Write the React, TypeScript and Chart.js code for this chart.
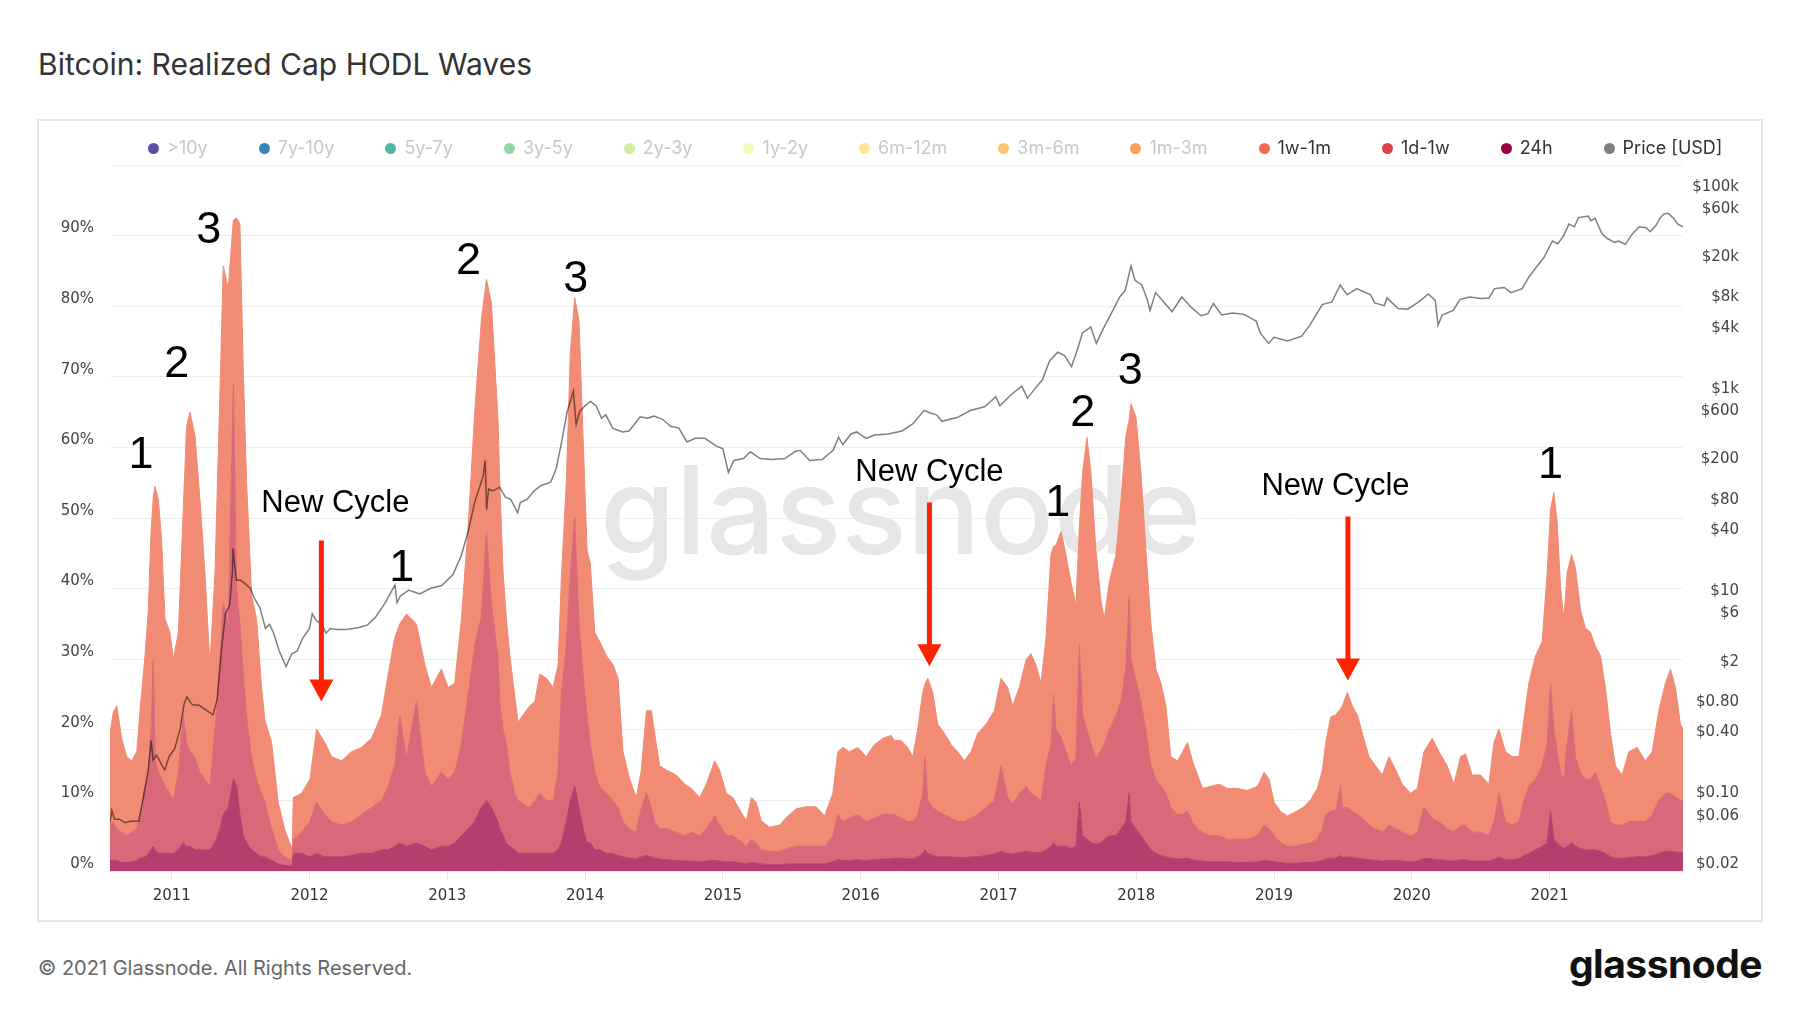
import React, { useEffect, useRef } from 'react';
import { Chart, registerables } from 'chart.js';

Chart.register(...registerables);

// ---------- DATA ----------
// Sample dates (decimal years)
const years: number[] = [
  2010.552, 2010.576, 2010.601, 2010.637, 2010.673, 2010.709, 2010.746, 2010.770, 2010.806, 2010.830,
  2010.850, 2010.866, 2010.879, 2010.903, 2010.927, 2010.951, 2010.987, 2011.012, 2011.048, 2011.084,
  2011.108, 2011.132, 2011.169, 2011.205, 2011.241, 2011.277, 2011.314, 2011.350, 2011.374, 2011.410,
  2011.447, 2011.471, 2011.495, 2011.519, 2011.543, 2011.580, 2011.616, 2011.652, 2011.676, 2011.725,
  2011.773, 2011.821, 2011.858, 2011.875, 2011.882, 2011.942, 2012.003, 2012.051, 2012.111, 2012.160,
  2012.232, 2012.305, 2012.377, 2012.450, 2012.522, 2012.571, 2012.619, 2012.655, 2012.704, 2012.776,
  2012.837, 2012.885, 2012.957, 2013.006, 2013.054, 2013.102, 2013.151, 2013.199, 2013.247, 2013.284,
  2013.320, 2013.368,
  2013.381, 2013.405, 2013.429, 2013.454, 2013.490, 2013.514, 2013.550, 2013.599, 2013.635, 2013.671,
  2013.719, 2013.768, 2013.804, 2013.828, 2013.864, 2013.893, 2013.925, 2013.956, 2013.985, 2014.014,
  2014.038, 2014.070, 2014.106, 2014.155, 2014.203, 2014.239, 2014.275, 2014.324, 2014.372, 2014.408,
  2014.445, 2014.481, 2014.505, 2014.541, 2014.590, 2014.662, 2014.723, 2014.771, 2014.831, 2014.880,
  2014.940, 2014.976, 2015.025, 2015.073, 2015.109, 2015.170, 2015.206, 2015.242, 2015.279, 2015.339,
  2015.412, 2015.472, 2015.532, 2015.605, 2015.677, 2015.738, 2015.798, 2015.834, 2015.871, 2015.919,
  2015.980, 2016.040, 2016.100, 2016.161, 2016.221,
  2016.245, 2016.293, 2016.342, 2016.378, 2016.414, 2016.450, 2016.467, 2016.487, 2016.523, 2016.559,
  2016.608, 2016.656, 2016.704, 2016.753, 2016.801, 2016.849, 2016.910, 2016.970, 2017.018, 2017.067,
  2017.103, 2017.151, 2017.200, 2017.236, 2017.272, 2017.309, 2017.345, 2017.381, 2017.400, 2017.417,
  2017.454, 2017.490, 2017.526, 2017.562, 2017.587, 2017.611, 2017.642, 2017.671, 2017.707, 2017.744,
  2017.768, 2017.804, 2017.853, 2017.889, 2017.925, 2017.949, 2017.961, 2017.998, 2018.034, 2018.070,
  2018.106, 2018.143, 2018.179, 2018.215, 2018.251, 2018.300, 2018.336, 2018.372, 2018.408, 2018.445,
  2018.481, 2018.541, 2018.602, 2018.662, 2018.735, 2018.807, 2018.880, 2018.928, 2018.964, 2019.001,
  2019.049, 2019.097,
  2019.157, 2019.218, 2019.266, 2019.314, 2019.351, 2019.375, 2019.411, 2019.447, 2019.484, 2019.496,
  2019.532, 2019.568, 2019.605, 2019.641, 2019.689, 2019.737, 2019.786, 2019.834, 2019.883, 2019.931,
  2019.991, 2020.040, 2020.088, 2020.148, 2020.197, 2020.257, 2020.305, 2020.354, 2020.390, 2020.438,
  2020.499, 2020.559, 2020.596, 2020.632, 2020.680, 2020.729, 2020.777, 2020.813, 2020.849, 2020.898,
  2020.946, 2020.982, 2021.007, 2021.031, 2021.055, 2021.079, 2021.103, 2021.127, 2021.159, 2021.188,
  2021.224, 2021.260, 2021.297, 2021.333, 2021.369, 2021.405, 2021.442, 2021.478, 2021.526, 2021.575,
  2021.635, 2021.695, 2021.744, 2021.792, 2021.840, 2021.877, 2021.913, 2021.949, 2021.968,
];

// 24h band (% of realized cap)
const band24h: number[] = [
  1.5, 1.5, 1.5, 1.2, 1.2, 1.3, 1.5, 1.8, 2.0, 2.5,
  3.0, 3.5, 3.0, 2.5, 2.5, 2.5, 2.5, 2.5, 3.0, 4.0,
  3.5, 3.5, 3.0, 3.0, 3.0, 3.0, 4.0, 6.0, 8.0, 9.0,
  13.0, 12.0, 8.0, 5.0, 4.0, 3.0, 2.5, 2.0, 2.0, 1.5,
  1.0, 0.8, 0.7, 0.7, 2.5, 2.5, 2.0, 2.5, 2.0, 2.0,
  2.0, 2.2, 2.5, 2.5, 3.0, 3.0, 3.5, 4.0, 3.5, 4.0,
  3.5, 3.0, 3.5, 3.5, 4.0, 5.0, 6.0, 7.0, 9.0, 10.0,
  9.0, 7.0,
  6.0, 5.0, 4.0, 3.5, 3.0, 2.5, 2.5, 2.5, 2.5, 2.5,
  2.5, 2.5, 3.0, 4.0, 7.0, 10.0, 12.0, 9.0, 6.0, 4.0,
  4.0, 3.0, 3.0, 2.5, 2.5, 2.2, 2.0, 1.8, 1.7, 2.0,
  2.2, 2.0, 1.8, 1.7, 1.6, 1.5, 1.4, 1.4, 1.3, 1.4,
  1.5, 1.4, 1.3, 1.3, 1.2, 1.0, 1.2, 1.1, 1.0, 0.9,
  0.9, 1.0, 1.0, 1.0, 1.0, 1.0, 1.3, 1.6, 1.5, 1.5,
  1.6, 1.5, 1.6, 1.7, 1.7,
  1.8, 1.8, 1.7, 1.7, 2.0, 2.5, 3.0, 2.5, 2.2, 2.0,
  2.0, 2.0, 1.9, 1.9, 2.0, 2.0, 2.2, 2.4, 2.8, 2.5,
  2.4, 2.6, 2.8, 2.7, 2.6, 2.6, 3.0, 3.5, 4.0, 3.5,
  3.5, 3.5, 3.2, 3.5, 9.7, 5.0, 4.5, 4.0, 3.8, 4.0,
  4.5, 5.0, 5.0, 6.0, 7.0, 11.0, 7.0, 6.0, 5.0, 4.0,
  3.0, 2.5, 2.2, 2.0, 1.8, 1.7, 1.7, 1.8, 1.6, 1.5,
  1.4, 1.3, 1.3, 1.3, 1.2, 1.2, 1.3, 1.5, 1.4, 1.3,
  1.2, 1.1,
  1.1, 1.2, 1.2, 1.3, 1.5, 1.7, 1.8, 1.8, 2.2, 1.9,
  2.0, 1.9, 1.8, 1.7, 1.6, 1.5, 1.4, 1.5, 1.5, 1.4,
  1.3, 1.4, 1.8, 1.7, 1.6, 1.5, 1.4, 1.6, 1.6, 1.4,
  1.4, 1.4, 1.6, 2.0, 1.6, 1.6, 1.7, 2.2, 2.5, 3.0,
  3.5, 4.0, 8.4, 4.5, 4.0, 3.5, 3.2, 3.5, 4.0, 3.5,
  3.2, 3.0, 3.0, 3.0, 2.8, 2.5, 2.0, 1.8, 1.8, 1.9,
  2.0, 2.0, 2.2, 2.5, 2.8, 2.8, 2.7, 2.6, 2.6,
];

// 1d-1w band (%)
const band1d1w: number[] = [
  5.0, 5.5, 4.5, 4.3, 3.8, 4.2, 4.5, 6.2, 10.0, 11.5,
  17.0, 26.5, 13.0, 11.5, 10.5, 9.5, 8.5, 7.5, 11.0, 18.0,
  14.5, 13.5, 13.0, 11.0, 10.0, 9.0, 16.0, 24.0, 30.0, 26.0,
  56.0, 28.0, 27.0, 23.0, 18.0, 13.0, 10.5, 9.0, 7.7, 4.5,
  2.0, 1.2, 0.9, 0.8, 2.0, 3.0, 5.0, 7.2, 6.0, 5.0,
  4.5, 4.8, 5.5, 6.5, 7.0, 9.0, 11.5, 18.0, 12.5, 20.0,
  10.5, 9.0, 10.5, 9.5, 10.0, 13.0, 19.0, 25.0, 27.0, 38.0,
  29.0, 23.0,
  18.0, 15.0, 14.0, 10.5, 8.0, 7.5, 7.0, 6.5, 7.5, 8.5,
  7.5, 7.5, 11.0, 21.0, 25.0, 32.0, 38.0, 26.0, 22.0, 18.0,
  14.0, 11.0, 9.0, 8.5, 7.5, 6.8, 5.0, 4.2, 3.8, 7.0,
  8.8, 7.0, 5.2, 4.3, 4.4, 4.0, 3.6, 4.1, 3.7, 4.6,
  6.3, 5.1, 3.7, 3.7, 3.3, 2.5, 3.3, 2.9, 2.0, 1.9,
  1.9, 2.2, 2.5, 2.5, 2.5, 2.5, 3.7, 6.4, 5.5, 6.0,
  6.4, 5.5, 5.9, 6.3, 6.3,
  6.2, 5.7, 5.3, 5.3, 6.0, 8.5, 13.0, 7.5, 6.8, 6.5,
  6.0, 5.5, 5.1, 5.1, 5.5, 6.0, 6.8, 7.6, 12.2, 8.0,
  7.1, 8.4, 9.2, 8.3, 7.9, 7.4, 12.0, 14.5, 21.0, 16.5,
  15.5, 13.5, 11.8, 12.5, 22.3, 17.0, 15.5, 14.0, 12.2, 13.0,
  13.5, 15.0, 17.0, 18.0, 22.0, 28.0, 23.0, 21.0, 19.0, 16.0,
  12.0, 10.5, 9.8, 9.0, 7.2, 6.3, 6.3, 6.7, 5.4, 4.5,
  4.1, 3.7, 3.7, 3.2, 3.3, 3.3, 3.7, 5.0, 4.6, 3.7,
  2.8, 2.4,
  2.4, 2.6, 2.8, 3.2, 4.5, 6.3, 6.7, 6.7, 9.8, 7.1,
  7.0, 6.6, 6.2, 5.8, 4.9, 4.5, 4.1, 5.0, 4.5, 4.1,
  3.7, 4.1, 7.2, 5.8, 5.4, 4.5, 4.1, 4.9, 4.9, 4.1,
  4.1, 3.6, 5.4, 9.0, 5.4, 4.9, 5.3, 7.8, 9.5, 10.0,
  11.5, 14.0, 18.2, 15.5, 13.0, 10.5, 9.8, 14.5, 18.7, 12.5,
  10.8, 10.0, 10.0, 11.0, 9.2, 7.5, 5.0, 4.7, 4.7, 5.1,
  5.0, 5.0, 5.8, 7.5, 8.2, 8.2, 7.8, 7.4, 7.4,
];

// 1w-1m band (%)
const band1w1m: number[] = [
  13.0, 15.5, 17.4, 13.3, 11.2, 10.1, 10.9, 14.7, 18.5, 23.0,
  28.0, 23.0, 38.5, 38.6, 33.8, 23.7, 22.8, 19.9, 19.8, 29.3,
  45.0, 48.0, 45.7, 38.6, 29.2, 17.2, 22.2, 38.0, 47.7, 47.5,
  23.2, 52.5, 56.6, 43.4, 33.2, 23.0, 22.7, 15.0, 11.7, 12.2,
  6.7, 3.8, 2.3, 1.7, 5.9, 5.5, 6.0, 10.4, 10.2, 9.2,
  9.1, 9.9, 9.5, 9.8, 12.1, 15.9, 18.1, 13.0, 20.4, 11.0,
  15.2, 14.0, 14.6, 13.0, 12.6, 17.7, 23.7, 33.0, 42.0, 35.8,
  42.5, 34.0,
  31.0, 22.2, 17.7, 16.5, 13.7, 11.1, 12.6, 14.4, 14.0, 16.9,
  17.3, 16.0, 15.2, 16.6, 23.2, 31.4, 31.2, 42.9, 33.7, 23.5,
  25.5, 19.8, 20.5, 19.5, 19.2, 18.3, 9.9, 7.0, 4.9, 5.3,
  11.7, 13.7, 12.5, 8.9, 8.3, 8.1, 7.3, 6.2, 5.4, 6.3,
  7.8, 7.8, 6.0, 5.4, 4.6, 3.6, 5.9, 5.7, 4.1, 3.4,
  3.7, 4.6, 5.3, 5.6, 5.6, 4.3, 6.0, 8.9, 10.5, 9.4,
  9.5, 9.2, 10.4, 10.8, 11.2,
  10.5, 11.0, 10.5, 9.2, 12.1, 14.3, 10.5, 17.3, 16.3, 12.3,
  11.5, 10.4, 9.9, 8.6, 9.4, 11.5, 11.8, 12.7, 12.3, 15.5,
  13.9, 15.0, 17.9, 19.8, 18.7, 16.6, 18.1, 26.8, 21.0, 26.1,
  29.1, 27.8, 25.9, 21.7, 16.7, 34.5, 41.4, 38.5, 29.5, 21.3,
  17.7, 20.9, 22.8, 28.6, 32.7, 25.0, 36.2, 37.3, 32.5, 25.5,
  20.1, 15.6, 14.6, 12.4, 7.2, 7.6, 8.9, 9.7, 8.6, 7.6,
  6.2, 7.0, 7.3, 7.2, 7.2, 6.9, 7.0, 7.5, 7.0, 4.7,
  4.4, 4.3,
  4.9, 5.3, 6.1, 7.2, 8.3, 10.2, 13.3, 13.6, 11.0, 14.4,
  16.3, 14.9, 14.1, 12.0, 9.7, 8.9, 8.1, 9.7, 8.3, 6.8,
  6.0, 6.2, 7.9, 11.3, 9.9, 8.9, 6.8, 9.7, 10.1, 8.1,
  8.1, 7.3, 11.2, 9.1, 9.9, 9.7, 9.2, 11.4, 14.6, 17.5,
  17.5, 24.2, 24.7, 33.6, 32.4, 26.3, 22.7, 24.2, 22.1, 26.9,
  23.0, 21.4, 20.8, 17.8, 18.5, 16.0, 12.5, 8.4, 7.1, 9.9,
  10.5, 8.6, 8.9, 12.7, 15.6, 17.6, 15.5, 10.8, 10.1,
];

// Bitcoin price (USD)
const priceYears: number[] = [
  2010.552, 2010.565, 2010.585, 2010.62, 2010.66, 2010.70, 2010.76, 2010.79, 2010.83, 2010.85,
  2010.865, 2010.89, 2010.93, 2010.95, 2010.98, 2011.02, 2011.06, 2011.09, 2011.11, 2011.15,
  2011.2, 2011.25, 2011.30, 2011.33, 2011.36, 2011.39, 2011.42, 2011.44, 2011.445, 2011.46,
  2011.47, 2011.50, 2011.53, 2011.57, 2011.60, 2011.64, 2011.68, 2011.71, 2011.74, 2011.78,
  2011.83, 2011.87, 2011.91, 2011.95, 2012.0, 2012.02, 2012.05, 2012.09, 2012.12, 2012.15,
  2012.2, 2012.27, 2012.35, 2012.42, 2012.48, 2012.55, 2012.62, 2012.635, 2012.66, 2012.72,
  2012.8, 2012.88, 2012.96, 2013.04, 2013.1, 2013.15, 2013.2, 2013.26, 2013.275, 2013.285,
  2013.30, 2013.33, 2013.38, 2013.42, 2013.46, 2013.51, 2013.53, 2013.58, 2013.63, 2013.68,
  2013.75, 2013.79, 2013.83, 2013.87, 2013.915, 2013.935, 2013.96, 2014.0, 2014.04, 2014.08,
  2014.12, 2014.15, 2014.2, 2014.27, 2014.32, 2014.4, 2014.45, 2014.5, 2014.56, 2014.62,
  2014.68, 2014.74, 2014.8, 2014.87, 2014.95, 2015.0, 2015.04, 2015.08, 2015.15, 2015.2,
  2015.27, 2015.35, 2015.45, 2015.52, 2015.56, 2015.63, 2015.72, 2015.8, 2015.84, 2015.87,
  2015.93, 2015.97, 2016.04, 2016.1, 2016.2, 2016.3, 2016.38, 2016.46, 2016.5, 2016.55,
  2016.59, 2016.7, 2016.8, 2016.9, 2016.98, 2017.01, 2017.1, 2017.17, 2017.21, 2017.27,
  2017.32, 2017.37, 2017.43, 2017.48, 2017.53, 2017.57, 2017.61, 2017.67, 2017.71, 2017.76,
  2017.83, 2017.88, 2017.92, 2017.962, 2017.99, 2018.04, 2018.08, 2018.1, 2018.14, 2018.2,
  2018.26, 2018.33, 2018.4, 2018.47, 2018.52, 2018.56, 2018.62, 2018.7, 2018.78, 2018.87,
  2018.9, 2018.96, 2019.0, 2019.1, 2019.2, 2019.26, 2019.35, 2019.42, 2019.48, 2019.53,
  2019.6, 2019.7, 2019.73, 2019.8, 2019.82, 2019.9, 2019.97, 2020.05, 2020.12, 2020.17,
  2020.19, 2020.22, 2020.3, 2020.35, 2020.42, 2020.5, 2020.56, 2020.6, 2020.67, 2020.72,
  2020.8, 2020.85, 2020.9, 2020.96, 2021.02, 2021.06, 2021.1, 2021.14, 2021.18, 2021.21,
  2021.28, 2021.3, 2021.33, 2021.38, 2021.42, 2021.47, 2021.5, 2021.55, 2021.6, 2021.65,
  2021.7, 2021.73, 2021.77, 2021.8, 2021.83, 2021.86, 2021.9, 2021.93, 2021.968,
];
const priceUsd: number[] = [
  0.06, 0.08, 0.065, 0.065, 0.06, 0.062, 0.062, 0.10, 0.20, 0.39,
  0.25, 0.28, 0.22, 0.20, 0.27, 0.32, 0.50, 0.90, 1.05, 0.88,
  0.87, 0.78, 0.70, 1.0, 3.0, 7.0, 8.5, 18, 31, 19,
  15, 15, 14, 12.5, 10.0, 8.0, 5.0, 5.5, 4.5, 3.0,
  2.1, 2.8, 3.0, 4.0, 5.0, 7.0, 6.0, 5.5, 4.5, 5.0,
  4.9, 4.9, 5.1, 5.4, 6.5, 9.0, 13.5, 9.0, 10.5, 12.0,
  11.0, 12.5, 13.3, 17, 26, 45, 90, 160, 230, 75,
  120, 115, 125, 100, 95, 70, 88, 95, 115, 130,
  140, 190, 350, 700, 1120, 520, 700, 800, 880, 800,
  600, 650, 480, 440, 450, 620, 600, 630, 590, 500,
  480, 350, 380, 380, 320, 300, 175, 230, 240, 280,
  240, 235, 240, 280, 290, 230, 235, 290, 390, 330,
  420, 440, 380, 410, 420, 450, 530, 720, 680, 650,
  560, 610, 720, 780, 980, 800, 1050, 1250, 950, 1200,
  1450, 2200, 2700, 2500, 1950, 2800, 4200, 4800, 3300, 4600,
  7000, 9500, 11000, 19300, 14000, 12500, 9000, 7000, 10500, 8500,
  6800, 9500, 7500, 6200, 6500, 8200, 6300, 6600, 6400, 5500,
  4200, 3300, 3800, 3500, 3900, 5000, 8000, 8500, 12500, 10000,
  11500, 10000, 8300, 7800, 9300, 7300, 7200, 8500, 10200, 8800,
  5000, 6300, 7000, 9000, 9500, 9200, 9300, 11500, 11800, 10500,
  11500, 15000, 18500, 23500, 34000, 32000, 38000, 50000, 47000, 58000,
  60000, 54000, 57000, 40000, 36000, 33000, 34000, 31500, 40000, 47000,
  46000, 42000, 48000, 57000, 63000, 64000, 57000, 50000, 47000,
];

// Legend (all HODL bands; only the youngest three are switched on)
const legendNames: string[] = ['>10y', '7y-10y', '5y-7y', '3y-5y', '2y-3y', '1y-2y', '6m-12m', '3m-6m', '1m-3m', '1w-1m', '1d-1w', '24h', 'Price [USD]'];
const legendColors: string[] = ['#5e4fa2', '#3288bd', '#4cb9a8', '#98d5a4', '#d3ed9c', '#f4f9b2', '#fee692', '#fdc574', '#fa9d58', '#f06b48', '#d8434f', '#9e0142', '#7f7f7f'];
const legendActive: boolean[] = [false, false, false, false, false, false, false, false, false, true, true, true, true];

// Axis ticks
const yearTicks: number[] = [2011, 2012, 2013, 2014, 2015, 2016, 2017, 2018, 2019, 2020, 2021];
const percentTicks: number[] = [0, 10, 20, 30, 40, 50, 60, 70, 80, 90, 100];
const priceTicks: number[] = [0.02, 0.06, 0.1, 0.4, 0.8, 2, 6, 10, 40, 80, 200, 600, 1000, 4000, 8000, 20000, 60000, 100000];

// Annotations (date, % level)
const cycleNumbers: string[] = ['1', '2', '3', '1', '2', '3', '1', '2', '3', '1'];
const cycleNumberYears: number[] = [2010.777, 2011.036, 2011.268, 2012.670, 2013.153, 2013.932, 2017.430, 2017.611, 2017.957, 2021.007];
const cycleNumberLevels: number[] = [59.4, 72.3, 91.2, 43.3, 86.9, 84.3, 52.6, 65.3, 71.2, 57.9];
const newCycleYears: number[] = [2012.188, 2016.499, 2019.446];
const newCycleLevels: number[] = [52.4, 56.8, 54.8];
const arrowYears: number[] = [2012.086, 2016.499, 2019.536];
const arrowFromLevels: number[] = [46.8, 52.2, 50.2];
const arrowToLevels: number[] = [24.0, 29.0, 27.0];

// ---------- STYLE ----------
const FILL_24H = 'rgb(181,62,110)';
const FILL_1D1W = 'rgb(219,104,120)';
const FILL_1W1M = 'rgb(242,139,116)';
const TICK_FONT = { family: 'DejaVu Sans', size: 15 };
const TICK_COLOR = '#444';

function formatPrice(v: number): string {
  if (v >= 1000) return '$' + v / 1000 + 'k';
  if (v >= 1) return '$' + v;
  return '$' + v.toFixed(2);
}

export default function App() {
  const canvasRef = useRef<HTMLCanvasElement>(null);

  useEffect(() => {
    document.body.style.margin = '0';
    const canvas = canvasRef.current;
    if (!canvas) return;
    const pts = (vals: number[]) => years.map((x, i) => ({ x, y: vals[i] }));

    const overlay = {
      id: 'overlay',
      beforeDatasetsDraw(chart: any) {
        const { ctx, chartArea } = chart;
        ctx.save();
        ctx.font = '500 122px Inter';
        ctx.fillStyle = '#e6e6e6';
        ctx.textAlign = 'center';
        ctx.textBaseline = 'alphabetic';
        ctx.fillText('glassnode', (chartArea.left + chartArea.right) / 2 + 4, (chartArea.top + chartArea.bottom) / 2 + 36);
        ctx.restore();
      },
      afterDatasetsDraw(chart: any) {
        const { ctx } = chart;
        const xs = chart.scales.x;
        const ys = chart.scales.y;
        ctx.save();
        ctx.fillStyle = '#000';
        ctx.textAlign = 'center';
        ctx.textBaseline = 'alphabetic';
        ctx.font = '45px "Liberation Sans"';
        cycleNumbers.forEach((t, i) => {
          ctx.fillText(t, xs.getPixelForValue(cycleNumberYears[i]), ys.getPixelForValue(cycleNumberLevels[i]) + 45 * 0.358);
        });
        ctx.font = '31px "Liberation Sans"';
        newCycleYears.forEach((yr, i) => {
          ctx.fillText('New Cycle', xs.getPixelForValue(yr), ys.getPixelForValue(newCycleLevels[i]) + 31 * 0.358);
        });
        const red = '#ff2200';
        arrowYears.forEach((yr, i) => {
          const px = xs.getPixelForValue(yr);
          const y0 = ys.getPixelForValue(arrowFromLevels[i]);
          const y1 = ys.getPixelForValue(arrowToLevels[i]);
          ctx.strokeStyle = red;
          ctx.lineWidth = 5;
          ctx.beginPath();
          ctx.moveTo(px, y0);
          ctx.lineTo(px, y1 - 20);
          ctx.stroke();
          ctx.fillStyle = red;
          ctx.beginPath();
          ctx.moveTo(px - 12, y1 - 22);
          ctx.lineTo(px + 12, y1 - 22);
          ctx.lineTo(px, y1);
          ctx.closePath();
          ctx.fill();
        });
        ctx.restore();
      },
    };

    const areaBase = { pointRadius: 0, borderWidth: 1, tension: 0, yAxisID: 'y', order: 1 };

    const chart = new Chart(canvas, {
      type: 'line',
      data: {
        datasets: [
          { ...areaBase, label: '24h', data: pts(band24h), backgroundColor: FILL_24H, borderColor: FILL_24H, fill: 'origin' },
          { ...areaBase, label: '1d-1w', data: pts(band1d1w), backgroundColor: FILL_1D1W, borderColor: FILL_1D1W, fill: '-1' },
          { ...areaBase, label: '1w-1m', data: pts(band1w1m), backgroundColor: FILL_1W1M, borderColor: FILL_1W1M, fill: '-1' },
          {
            label: 'Price [USD]',
            data: priceYears.map((x, i) => ({ x, y: priceUsd[i] })),
            yAxisID: 'y1',
            borderColor: 'rgba(0,0,0,0.5)',
            borderWidth: 1.5,
            pointRadius: 0,
            fill: false,
            tension: 0,
            order: 0,
          },
        ],
      } as any,
      options: {
        responsive: false,
        animation: false,
        devicePixelRatio: 1,
        parsing: true,
        layout: { padding: { left: 0, right: 22, top: 44, bottom: 0 } },
        plugins: { legend: { display: false }, tooltip: { enabled: false } },
        scales: {
          x: {
            type: 'linear',
            min: years[0],
            max: years[years.length - 1],
            afterBuildTicks: (a: any) => { a.ticks = yearTicks.map((v) => ({ value: v })); },
            afterFit: (s: any) => { s.height = 49; },
            grid: { drawOnChartArea: false, drawTicks: true, tickLength: 10, color: '#e6e6e6' },
            border: { display: false },
            ticks: { autoSkip: false, maxRotation: 0, padding: 6, color: '#333', font: TICK_FONT, callback: (v: any) => String(v) },
          },
          y: {
            type: 'linear',
            position: 'left',
            stacked: true,
            min: 0,
            max: 100,
            afterBuildTicks: (a: any) => { a.ticks = percentTicks.map((v) => ({ value: v })); },
            afterFit: (s: any) => { s.width = 71; },
            grid: { color: '#eeeeee', drawTicks: false },
            border: { display: false },
            ticks: { padding: 16, labelOffset: -7, color: TICK_COLOR, font: TICK_FONT, callback: (v: any) => (v === 100 ? '' : v + '%') },
          },
          y1: {
            type: 'logarithmic',
            position: 'right',
            min: 0.02,
            max: 192000,
            afterBuildTicks: (a: any) => { a.ticks = priceTicks.map((v) => ({ value: v })); },
            afterFit: (s: any) => { s.width = 56; },
            grid: { display: false, drawOnChartArea: false },
            border: { display: false },
            ticks: { crossAlign: 'far', padding: 0, labelOffset: -7, color: TICK_COLOR, font: TICK_FONT, autoSkip: false, callback: (v: any) => formatPrice(Number(v)) },
          },
        },
      } as any,
      plugins: [overlay],
    });
    return () => chart.destroy();
  }, []);

  return (
    <div style={{ position: 'relative', width: 1800, height: 1013, background: '#fff', overflow: 'hidden', fontFamily: 'Inter, sans-serif' }}>
      <div style={{ position: 'absolute', left: 38, top: 49, fontSize: 30, lineHeight: 1, color: '#333', fontWeight: 400, whiteSpace: 'nowrap' }}>
        Bitcoin: Realized Cap HODL Waves
      </div>
      <div style={{ position: 'absolute', left: 37, top: 119, width: 1722, height: 799, border: '2px solid #e6e6e6' }}>
        <canvas ref={canvasRef} width={1722} height={799} style={{ position: 'absolute', left: 0, top: 0, width: 1722, height: 799 }} />
        <div style={{ position: 'absolute', left: 109, top: 17, height: 20, display: 'flex', alignItems: 'center', whiteSpace: 'nowrap' }}>
          {legendNames.map((n, i) => (
            <div key={n} style={{ display: 'flex', alignItems: 'center', marginRight: i === legendNames.length - 1 ? 0 : 51 }}>
              <span style={{ width: 11, height: 11, borderRadius: '50%', background: legendColors[i], display: 'inline-block', marginRight: 8 }} />
              <span style={{ fontSize: 18, lineHeight: '20px', color: legendActive[i] ? '#333' : '#c8c8c8' }}>{n}</span>
            </div>
          ))}
        </div>
      </div>
      <div style={{ position: 'absolute', left: 38, top: 958, fontSize: 20, lineHeight: 1, color: '#666', whiteSpace: 'nowrap' }}>
        © 2021 Glassnode. All Rights Reserved.
      </div>
      <div style={{ position: 'absolute', right: 38, top: 944, fontSize: 39, lineHeight: 1, fontWeight: 700, color: '#111', letterSpacing: -0.5, whiteSpace: 'nowrap' }}>
        glassnode
      </div>
    </div>
  );
}
